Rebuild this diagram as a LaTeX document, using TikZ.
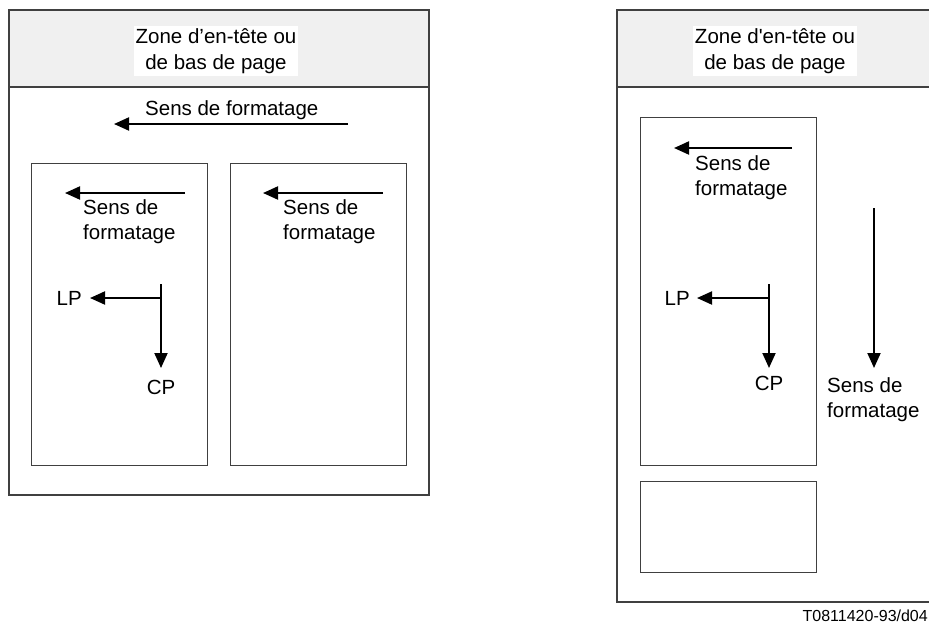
\documentclass[tikz,border=0pt]{standalone}
\usepackage{fontspec}
\setmainfont{Liberation Sans}[Ligatures=TeXOff]
\usetikzlibrary{arrows.meta}
\definecolor{hdrgray}{HTML}{F0F0F0}
\definecolor{edgegray}{HTML}{404040}
\tikzset{
  pagebox/.style={draw=edgegray, line width=1.2pt},
  hdrbox/.style={draw=edgegray, line width=1.2pt, fill=hdrgray},
  colbox/.style={draw=edgegray, line width=1pt},
  hdrtext/.style={fill=white, align=center, inner sep=2pt, font=\fontsize{20.5}{26}\selectfont},
  lbl/.style={inner sep=0pt, font=\fontsize{20.5}{25}\selectfont},
  lbltwo/.style={inner sep=0pt, align=left, font=\fontsize{20.5}{25}\selectfont},
  dirarrow/.style={line width=2pt, -{Triangle[length=15pt,width=13pt]}},
  plainline/.style={line width=2pt}
}
\begin{document}
\begin{tikzpicture}[x=1pt,y=-1pt]
\useasboundingbox (0,0) rectangle (929,624);
\clip (0,0) rectangle (929,624);
% ---------- left page ----------
\draw[pagebox] (9,10) rectangle (429,495);
\draw[hdrbox] (9,10) rectangle (429,87);
\node[hdrtext] (lhdr) at (216,51) {Zone d’en-tête ou\\de bas de page};
\coordinate (ltopS) at (348,124);
\coordinate (ltopE) at (114,124);
\draw[dirarrow] (ltopS) -- (ltopE);
\node[lbl, anchor=base west] (ltoplbl) at (145,115) {Sens de formatage};
\draw[colbox] (31,163) rectangle (207,465);
\draw[colbox] (230,163) rectangle (406,465);
\coordinate (c1S) at (185,193);
\coordinate (c1E) at (65,193);
\draw[dirarrow] (c1S) -- (c1E);
\node[lbltwo, anchor=north west] (c1lbl) at (83,199) {Sens de\\formatage};
\coordinate (c2S) at (383,193);
\coordinate (c2E) at (263,193);
\draw[dirarrow] (c2S) -- (c2E);
\node[lbltwo, anchor=north west] (c2lbl) at (283,199) {Sens de\\formatage};
\coordinate (lvT) at (161,284);
\coordinate (lcorner) at (161,298);
\node[lbl, anchor=east] (lLP) at (82,298) {LP};
\node[lbl, anchor=north] (lCP) at (161,380) {CP};
\coordinate (lLPtip) at (90,298);
\coordinate (lCPtip) at (161,368);
\draw[plainline] (lvT) -- (lcorner);
\draw[dirarrow] (lcorner) -- (lLPtip);
\draw[dirarrow] (lcorner) -- (lCPtip);
% ---------- right page ----------
\draw[pagebox] (617,10) rectangle (940,602);
\draw[hdrbox] (617,10) rectangle (940,87);
\node[hdrtext] (rhdr) at (775,51) {Zone d'en-tête ou\\de bas de page};
\draw[colbox] (640,117) rectangle (816,465);
\draw[colbox] (640,481) rectangle (816,572);
\coordinate (r1S) at (792,148);
\coordinate (r1E) at (674,148);
\draw[dirarrow] (r1S) -- (r1E);
\node[lbltwo, anchor=north west] (r1lbl) at (695,155) {Sens de\\formatage};
\coordinate (rvT) at (769,284);
\coordinate (rcorner) at (769,298);
\coordinate (rLPtip) at (697,298);
\coordinate (rCPtip) at (769,368);
\draw[plainline] (rvT) -- (rcorner);
\draw[dirarrow] (rcorner) -- (rLPtip);
\draw[dirarrow] (rcorner) -- (rCPtip);
\node[lbl, anchor=east] (rLP) at (690,298) {LP};
\node[lbl, anchor=north] (rCP) at (769,376) {CP};
\coordinate (rbigS) at (874,208);
\coordinate (rbigE) at (874,368);
\draw[dirarrow] (rbigS) -- (rbigE);
\node[lbltwo, anchor=north west] (rbiglbl) at (827,377) {Sens de\\formatage};
\node[inner sep=0pt, anchor=base east, font=\fontsize{16}{19}\selectfont] (code) at (928,621) {T0811420-93/d04};
\end{tikzpicture}
\end{document}
